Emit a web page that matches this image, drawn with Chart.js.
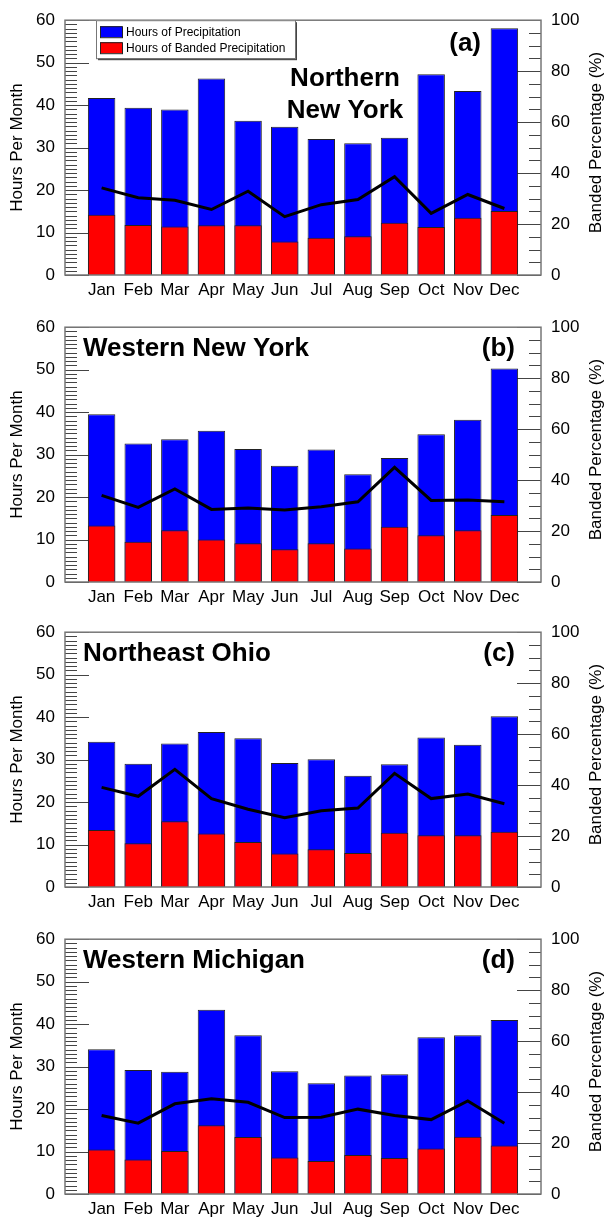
<!DOCTYPE html>
<html>
<head>
<meta charset="utf-8">
<script src="https://cdn.jsdelivr.net/npm/chart.js@4.4.1/dist/chart.umd.min.js"></script>
<style>
  html, body { margin: 0; padding: 0; background: #fff; }
  #wrap { position: relative; width: 604px; height: 1217px; overflow: hidden; }
  .panel { position: absolute; left: 0; width: 604px; height: 300px; }
</style>
</head>
<body>
<div id="wrap">
  <div class="panel" style="top:0px"><canvas id="c0" width="604" height="300"></canvas></div>
  <div class="panel" style="top:307px"><canvas id="c1" width="604" height="300"></canvas></div>
  <div class="panel" style="top:612px"><canvas id="c2" width="604" height="300"></canvas></div>
  <div class="panel" style="top:919px"><canvas id="c3" width="604" height="300"></canvas></div>
</div>
<script>
const months = ['Jan', 'Feb', 'Mar', 'Apr', 'May', 'Jun', 'Jul', 'Aug', 'Sep', 'Oct', 'Nov', 'Dec'];

// (a) Northern New York
const nnyTotal  = [41.7, 39.4, 39.0, 46.3, 36.3, 34.9, 32.0, 31.0, 32.3, 47.3, 43.3, 58.1];
const nnyBanded = [14.2, 11.8, 11.4, 11.7, 11.7, 7.9, 8.8, 9.1, 12.3, 11.3, 13.5, 15.1];
const nnyPct    = [34.2, 30.3, 29.3, 25.7, 32.9, 22.9, 27.6, 29.6, 38.6, 24.2, 31.6, 26.1];

// (b) Western New York
const wnyTotal  = [39.5, 32.6, 33.6, 35.6, 31.3, 27.4, 31.2, 25.4, 29.2, 34.8, 38.2, 50.3];
const wnyBanded = [13.3, 9.5, 12.2, 10.0, 9.1, 7.7, 9.1, 7.9, 13.0, 11.0, 12.2, 15.8];
const wnyPct    = [34.0, 29.3, 36.5, 28.5, 29.0, 28.3, 29.5, 31.5, 45.0, 32.0, 32.2, 31.5];

// (c) Northeast Ohio
const neoTotal  = [34.2, 29.0, 33.8, 36.5, 35.0, 29.2, 30.1, 26.2, 28.9, 35.2, 33.5, 40.2];
const neoBanded = [13.4, 10.3, 15.5, 12.6, 10.6, 7.9, 8.9, 8.0, 12.8, 12.2, 12.2, 13.0];
const neoPct    = [39.1, 35.6, 46.2, 34.7, 30.5, 27.2, 29.9, 31.0, 44.6, 34.7, 36.5, 32.7];

// (d) Western Michigan
const wmiTotal  = [34.1, 29.2, 28.8, 43.4, 37.4, 28.9, 26.1, 27.9, 28.2, 36.9, 37.4, 41.0];
const wmiBanded = [10.5, 8.1, 10.1, 16.2, 13.4, 8.6, 7.8, 9.2, 8.5, 10.7, 13.5, 11.4];
const wmiPct    = [30.8, 27.8, 35.4, 37.4, 36.0, 30.0, 30.1, 33.3, 30.8, 29.2, 36.5, 27.8];

const leftTicks = [0, 10, 20, 30, 40, 50, 60];
const rightTicks = [0, 20, 40, 60, 80, 100];

const FONT = '"Liberation Sans", Arial, Helvetica, sans-serif';

const panels = [
  { id: 'c0', total: nnyTotal, banded: nnyBanded, pct: nnyPct, title: ['Northern', 'New York'], tag: '(a)', legend: true },
  { id: 'c1', total: wnyTotal, banded: wnyBanded, pct: wnyPct, title: ['Western New York'], tag: '(b)' },
  { id: 'c2', total: neoTotal, banded: neoBanded, pct: neoPct, title: ['Northeast Ohio'], tag: '(c)' },
  { id: 'c3', total: wmiTotal, banded: wmiBanded, pct: wmiPct, title: ['Western Michigan'], tag: '(d)' }
];

// inward ticks (minor + major) drawn from the scales
const tickPlugin = {
  id: 'inTicks',
  beforeDatasetsDraw(chart) {
    const { ctx, chartArea: a, scales } = chart;
    ctx.save();
    ctx.strokeStyle = '#444';
    ctx.lineWidth = 1;
    ctx.beginPath();
    for (let v = scales.y.min; v <= scales.y.max; v++) {
      const py = Math.round(scales.y.getPixelForValue(v)) + 0.5;
      const len = v % 10 === 0 ? 24 : 12;
      ctx.moveTo(a.left, py);
      ctx.lineTo(a.left + len, py);
    }
    for (let v = scales.y1.min; v <= scales.y1.max; v += 5) {
      const py = Math.round(scales.y1.getPixelForValue(v)) + 0.5;
      const len = v % 20 === 0 ? 24 : 12;
      ctx.moveTo(a.right, py);
      ctx.lineTo(a.right - len, py);
    }
    ctx.stroke();
    ctx.restore();
  }
};

// frame, titles, panel tag, axis titles, legend box
const decorPlugin = {
  id: 'decor',
  afterDatasetsDraw(chart, args, opts) {
    const { ctx, chartArea: a } = chart;
    const p = opts.panel;
    ctx.save();
    ctx.strokeStyle = '#777';
    ctx.lineWidth = 1.5;
    ctx.strokeRect(a.left, a.top, a.right - a.left, a.bottom - a.top);

    ctx.fillStyle = '#000';
    ctx.font = 'bold 26px ' + FONT;
    ctx.textBaseline = 'alphabetic';
    if (p.title.length > 1) {
      ctx.textAlign = 'center';
      ctx.fillText(p.title[0], 345, a.top + 66);
      ctx.fillText(p.title[1], 345, a.top + 98);
      ctx.textAlign = 'right';
      ctx.fillText(p.tag, 481, a.top + 31);
    } else {
      ctx.textAlign = 'left';
      ctx.fillText(p.title[0], 83, a.top + 29);
      ctx.textAlign = 'right';
      ctx.fillText(p.tag, 515, a.top + 29);
    }

    ctx.font = '17px ' + FONT;
    ctx.textAlign = 'center';
    ctx.textBaseline = 'middle';
    const cy = (a.top + a.bottom) / 2;
    ctx.save();
    ctx.translate(17, cy);
    ctx.rotate(-Math.PI / 2);
    ctx.fillText('Hours Per Month', 0, 0);
    ctx.restore();
    ctx.save();
    ctx.translate(596, cy - 5);
    ctx.rotate(-Math.PI / 2);
    ctx.fillText('Banded Percentage (%)', 0, 0);
    ctx.restore();

    if (p.legend) {
      const bx = 96, by = a.top, bw = 199, bh = 38;
      ctx.fillStyle = '#444';
      ctx.fillRect(bx + 2, by + 2, bw, bh);
      ctx.fillStyle = '#fff';
      ctx.fillRect(bx, by, bw, bh);
      ctx.strokeStyle = '#777';
      ctx.lineWidth = 1;
      ctx.strokeRect(bx + 0.5, by + 0.5, bw, bh);
      const items = chart.data.datasets.filter(d => d.type !== 'line').reverse();
      items.forEach((d, i) => {
        const sy = by + 6 + i * 16;
        ctx.fillStyle = d.backgroundColor;
        ctx.fillRect(bx + 4, sy, 22, 11);
        ctx.strokeStyle = '#222';
        ctx.strokeRect(bx + 4.5, sy + 0.5, 22, 11);
        ctx.fillStyle = '#000';
        ctx.font = '12px ' + FONT;
        ctx.textAlign = 'left';
        ctx.textBaseline = 'middle';
        ctx.fillText(d.label, bx + 30, sy + 6);
      });
    }
    ctx.restore();
  }
};

const tickFont = { family: FONT, size: 17 };

panels.forEach(p => {
  new Chart(document.getElementById(p.id), {
    type: 'bar',
    data: {
      datasets: [
        {
          type: 'line',
          label: 'Banded Percentage',
          data: p.pct.map((v, i) => ({ x: i + 1, y: v })),
          yAxisID: 'y1',
          borderColor: '#000',
          borderWidth: 3,
          pointRadius: 0,
          tension: 0
        },
        {
          label: 'Hours of Banded Precipitation',
          data: p.banded.map((v, i) => ({ x: i + 1, y: v })),
          yAxisID: 'y',
          backgroundColor: '#ff0000',
          borderColor: '#222',
          borderWidth: 1,
          grouped: false,
          barPercentage: 0.75,
          categoryPercentage: 1
        },
        {
          label: 'Hours of Precipitation',
          data: p.total.map((v, i) => ({ x: i + 1, y: v })),
          yAxisID: 'y',
          backgroundColor: '#0000ff',
          borderColor: '#222',
          borderWidth: 1,
          grouped: false,
          barPercentage: 0.75,
          categoryPercentage: 1
        }
      ]
    },
    options: {
      responsive: false,
      animation: false,
      layout: { padding: { top: 16, left: 0, right: 0, bottom: 0 } },
      plugins: {
        legend: { display: false },
        tooltip: { enabled: false },
        decor: { panel: p }
      },
      scales: {
        x: {
          type: 'linear',
          offset: false,
          min: 0,
          max: 13,
          grid: { display: false, drawTicks: false, offset: false },
          border: { display: false },
          ticks: {
            stepSize: 1,
            autoSkip: false,
            maxRotation: 0,
            padding: 5,
            color: '#000',
            font: tickFont,
            callback: v => months[v - 1] || ''
          },
          afterFit: s => { s.height = 25; }
        },
        y: {
          min: 0,
          max: 60,
          grid: { display: false, drawTicks: false },
          border: { display: false },
          afterBuildTicks: s => { s.ticks = leftTicks.map(v => ({ value: v })); },
          ticks: { padding: 10, color: '#000', font: tickFont },
          afterFit: s => { s.width = 65; }
        },
        y1: {
          position: 'right',
          min: 0,
          max: 100,
          grid: { display: false, drawTicks: false },
          border: { display: false },
          afterBuildTicks: s => { s.ticks = rightTicks.map(v => ({ value: v })); },
          ticks: { padding: 10, color: '#000', font: tickFont },
          afterFit: s => { s.width = 63; }
        }
      }
    },
    plugins: [tickPlugin, decorPlugin]
  });
});
</script>
</body>
</html>
